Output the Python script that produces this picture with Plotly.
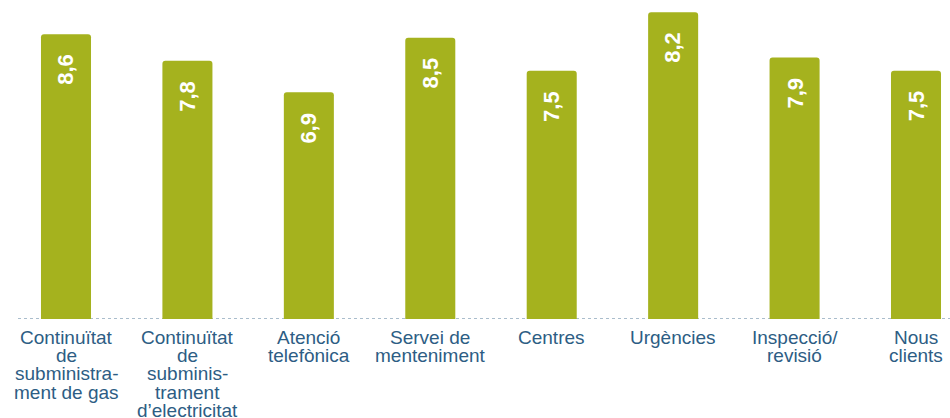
import plotly.graph_objects as go

categories = [
    ["Continuïtat", "de", "subministra-", "ment de gas"],
    ["Continuïtat", "de", "subminis-", "trament", "d’electricitat"],
    ["Atenció", "telefònica"],
    ["Servei de", "menteniment"],
    ["Centres"],
    ["Urgències"],
    ["Inspecció/", "revisió"],
    ["Nous", "clients"],
]
# bar heights as drawn in the reference (Urgències bar drawn taller than its label)
bar_heights = [8.6, 7.8, 6.85, 8.5, 7.5, 9.27, 7.9, 7.5]
value_labels = ["8,6", "7,8", "6,9", "8,5", "7,5", "8,2", "7,9", "7,5"]

BAR = "#a5b21e"
LABEL = "#2d5d84"
FONT = "Liberation Sans, Arial, Helvetica, sans-serif"

xs = list(range(len(categories)))

fig = go.Figure()
fig.add_trace(go.Bar(
    x=xs, y=bar_heights, width=0.412,
    marker=dict(color=BAR, line=dict(width=0)),
    hoverinfo="skip",
))

annotations = []
for i, (h, lab) in enumerate(zip(bar_heights, value_labels)):
    annotations.append(dict(
        x=i, y=h, xref="x", yref="y", text=f"<b>{lab}</b>", showarrow=False,
        textangle=-90, yanchor="top", xanchor="center", yshift=-18,
        font=dict(family=FONT, size=22, color="white"),
    ))
for i, lines in enumerate(categories):
    for j, line in enumerate(lines):
        annotations.append(dict(
            x=i, y=0, xref="x", yref="y", text=line, showarrow=False,
            yanchor="top", xanchor="center", yshift=-6 - 18.2 * j,
            font=dict(family=FONT, size=19, color=LABEL),
        ))

fig.add_shape(type="line", xref="paper", yref="y", x0=18 / 950, x1=1, y0=0, y1=0,
              line=dict(color="#aabdcc", width=2, dash="dot"), layer="below")

fig.update_layout(
    width=950, height=418,
    margin=dict(l=0, r=0, t=0, b=99),
    paper_bgcolor="white", plot_bgcolor="white",
    barcornerradius=3,
    showlegend=False,
    xaxis=dict(range=[-0.5435, 7.28], visible=False, fixedrange=True),
    yaxis=dict(range=[0, 319 / 33.1], visible=False, fixedrange=True),
    annotations=annotations,
)

fig.write_html(
    "out.html",
    config={"displayModeBar": False},
    post_script="document.body.style.margin='0';document.body.style.overflow='hidden';",
)
